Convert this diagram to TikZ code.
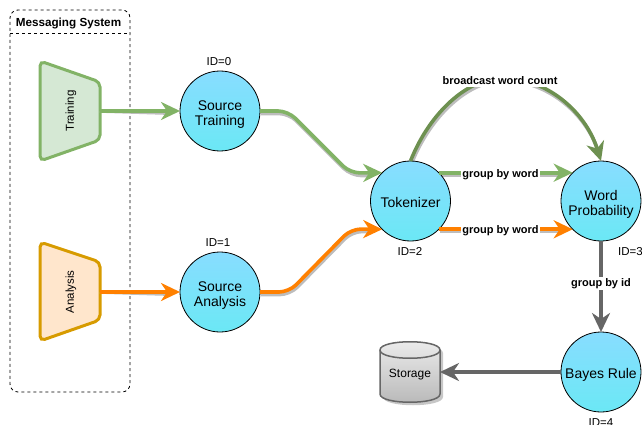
\documentclass[tikz,border=0pt]{standalone}
\usepackage{fontspec}
\usepackage{graphicx}
\setmainfont{Liberation Sans}
\usetikzlibrary{arrows.meta}
\definecolor{cgreen}{HTML}{82B366}
\definecolor{cdgreen}{HTML}{6D9050}
\definecolor{corange}{HTML}{FF8000}
\definecolor{cdark}{HTML}{666666}
\definecolor{ctop}{HTML}{88DDFF}
\definecolor{cbot}{HTML}{6BE8F5}
\definecolor{cshadow}{HTML}{BDBDBD}
\newcommand{\twolines}[2]{\rule{0pt}{13.7pt}\smash{#1}\\\smash{#2}}
\newcommand{\oneline}[1]{\rule{0pt}{12pt}\smash{#1}}
\tikzset{
  proc/.style={circle,draw=black,line width=0.8pt,top color=ctop,bottom color=cbot,minimum size=80pt,inner sep=0pt,outer sep=0pt,align=center,font=\fontsize{14}{15.7}\selectfont},
  idlabel/.style={inner sep=0pt,font=\fontsize{11.5}{14}\selectfont},
  edgelabel/.style={fill=white,inner sep=1.5pt,font=\fontsize{11}{13}\bfseries\selectfont},
  flow/.style={line width=3.6pt,-{Stealth[length=19pt,width=18pt,inset=6pt]},draw=#1},
  shadowline/.style={line width=3.6pt,draw=cshadow,shorten >=12pt,xshift=1pt,yshift=-2.5pt},
  srcbox/.style={minimum width=60pt,minimum height=100pt,inner sep=0pt,outer sep=0pt,font=\fontsize{11.5}{14}\selectfont},
  trap/.style={line width=3pt,rounded corners=5pt},
}
\begin{document}
\begin{tikzpicture}[x=1pt,y=-1pt]
\useasboundingbox (0,0) rectangle (642,425);
\clip (0,0) rectangle (642,425);
% container
\draw[black,line width=0.8pt,dash pattern=on 3pt off 3pt,rounded corners=8pt] (10,33) -- (10,10) -- (130,10) -- (130,392) -- (10,392) -- cycle;
\draw[black,line width=0.8pt,dash pattern=on 3pt off 3pt] (10,33) -- (130,33);
\node[inner sep=0pt,font=\fontsize{11.7}{14}\bfseries\selectfont] (title) at (68.5,23.5) {Messaging System};
% sources
\draw[trap,draw=cgreen,fill={rgb,255:red,213;green,232;blue,212}] (40,61) -- (100,82) -- (100,140) -- (40,161) -- cycle;
\draw[trap,draw={rgb,255:red,215;green,155;blue,0},fill={rgb,255:red,255;green,230;blue,204}] (40,242) -- (100,262) -- (100,320) -- (40,341) -- cycle;
\node[srcbox] (training) at (70,111) {\hspace{2pt}\rotatebox{90}{Training}};
\node[srcbox] (analysis) at (70,292) {\hspace{2pt}\rotatebox{90}{Analysis}};
% shadows of connectors
\draw[shadowline] (training.east) -- (180,111);
\draw[shadowline] (analysis.east) -- (180,292);
\draw[shadowline,rounded corners=10pt] (260,111) -- (288,111) -- (350,173) -- (381.5,173);
\draw[shadowline,rounded corners=10pt] (260,292) -- (289,292) -- (351,229) -- (381.5,229);
\draw[shadowline] (410.5,161) .. controls (430,112) and (468,78) .. (503,78) .. controls (545,78) and (585,110) .. (601,161);
\draw[shadowline] (439,173) -- (572.7,173);
\draw[shadowline] (439,229) -- (572.7,229);
% processors
\node[proc] (st) at (220,111) {\twolines{Source}{Training}};
\node[proc] (sa) at (220,292) {\twolines{Source}{Analysis}};
\node[proc] (tok) at (410.5,201) {\oneline{Tokenizer}};
\node[proc] (wp) at (601,201) {\twolines{Word}{Probability}};
\node[proc] (br) at (601,372) {\oneline{Bayes Rule}};
% storage
\fill[black!22] (383,353) .. controls (383,342) and (443,342) .. (443,353) -- (443,397) .. controls (443,408) and (383,408) .. (383,397) -- cycle;
\draw[cdark,line width=1.5pt,top color=black!7,bottom color=black!28] (380,350) .. controls (380,339) and (440,339) .. (440,350) -- (440,394) .. controls (440,405) and (380,405) .. (380,394) -- cycle;
\draw[cdark,line width=1.5pt] (380,350) .. controls (380,361) and (440,361) .. (440,350);
\node[minimum width=60pt,minimum height=60pt,inner sep=0pt,outer sep=0pt,font=\fontsize{12}{14}\selectfont] (storage) at (410,372) {\rule{0pt}{10pt}\smash{Storage}};
% IDs
\node[idlabel] (id0) at (219,61.5) {ID=0};
\node[idlabel] (id1) at (218,242.5) {ID=1};
\node[idlabel] (id2) at (410,251.5) {ID=2};
\node[idlabel,anchor=west] (id3) at (618,251.5) {ID=3};
\node[idlabel] (id4) at (601,423) {ID=4};
% connectors
\draw[flow=cgreen] (training.east) -- (st.west);
\draw[flow=corange] (analysis.east) -- (sa.west);
\draw[flow=cgreen,rounded corners=10pt] (st.east) -- (288,111) -- (350,173) -- (tok.135);
\draw[flow=corange,rounded corners=10pt] (sa.east) -- (289,292) -- (351,229) -- (tok.-135);
\draw[flow=cdgreen] (tok.90) .. controls (430,112) and (468,78) .. (503,78) .. controls (545,78) and (585,110) .. (wp.90);
\draw[flow=cgreen] (tok.45) -- (wp.135);
\draw[flow=corange] (tok.-45) -- (wp.-135);
\draw[flow=cdark] (wp.south) -- (br.north);
\draw[flow=cdark] (br.west) -- (storage.east);
% edge labels
\node[edgelabel] (l1) at (500,81) {broadcast word count};
\node[edgelabel] (l2) at (500.5,174.5) {group by word};
\node[edgelabel] (l3) at (500.5,231) {group by word};
\node[edgelabel] (l4) at (601,283.5) {group by id};
\end{tikzpicture}
\end{document}
